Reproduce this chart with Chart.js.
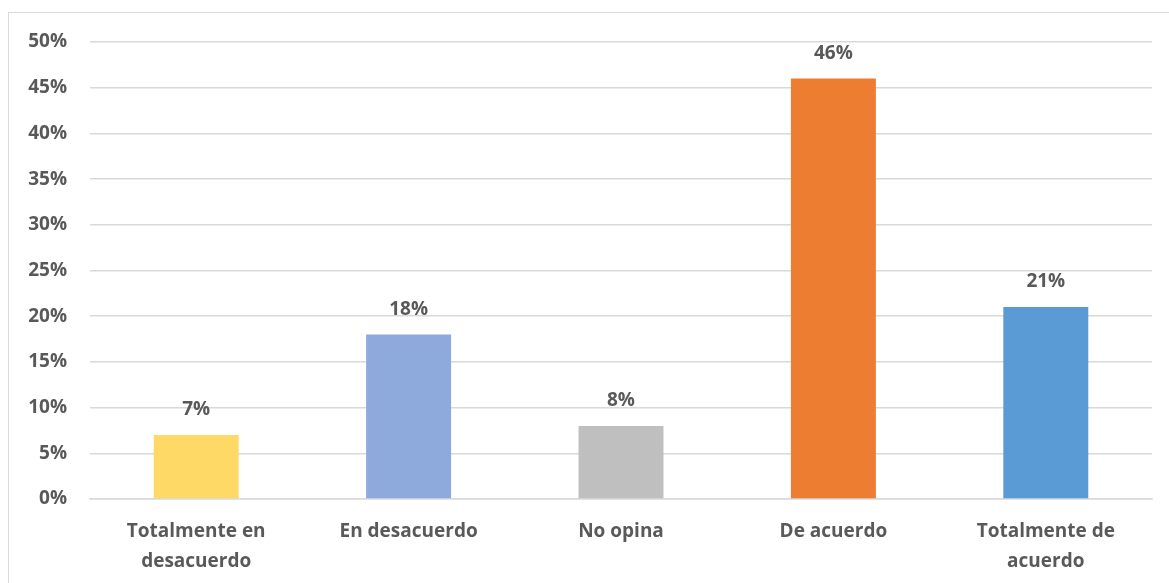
<!DOCTYPE html>
<html>
<head>
<meta charset="utf-8">
<script src="https://cdn.jsdelivr.net/npm/chart.js@4"></script>
<style>
  html, body { margin: 0; padding: 0; background: #fff; overflow: hidden; }
  #frame { position: absolute; left: 8px; top: 12px; width: 1200px; height: 620px; border: 1.5px solid #d9d9d9; }
  #wrap { position: absolute; left: 0; top: 0; width: 1169px; height: 583px; }
</style>
</head>
<body>
<div id="frame"></div>
<div id="wrap"><canvas id="chart" width="1169" height="583"></canvas></div>
<script>
const categories = [
  ['Totalmente en', 'desacuerdo'],
  'En desacuerdo',
  'No opina',
  'De acuerdo',
  ['Totalmente de', 'acuerdo']
]
const values = [7, 18, 8, 46, 21]
const barColors = ['#FFD966', '#8EA9DB', '#BFBFBF', '#ED7D31', '#5B9BD5']
const yTicks = [0, 5, 10, 15, 20, 25, 30, 35, 40, 45, 50]

const textColor = '#595959'
const fontFamily = '"Open Sans", "Noto Sans", sans-serif'

// draws the value above each bar
const valueLabels = {
  id: 'valueLabels',
  afterDatasetsDraw(chart) {
    const ctx = chart.ctx
    const meta = chart.getDatasetMeta(0)
    ctx.save()
    ctx.fillStyle = textColor
    ctx.font = `bold 19px ${fontFamily}`
    ctx.textAlign = 'center'
    ctx.textBaseline = 'middle'
    meta.data.forEach((bar, i) => {
      ctx.fillText(values[i] + '%', bar.x, bar.y - 25)
    })
    ctx.restore()
  }
}

new Chart(document.getElementById('chart'), {
  type: 'bar',
  data: {
    labels: categories,
    datasets: [{
      data: values,
      backgroundColor: barColors,
      categoryPercentage: 1,
      barPercentage: 0.4
    }]
  },
  options: {
    responsive: false,
    animation: false,
    layout: { padding: { left: 10, right: 17, top: 42, bottom: 0 } },
    plugins: {
      legend: { display: false },
      tooltip: { enabled: false }
    },
    scales: {
      x: {
        grid: { display: false },
        border: { color: '#d9d9d9', width: 1.5 },
        ticks: {
          color: textColor,
          font: { family: fontFamily, size: 19, weight: 'bold', lineHeight: 1.55 },
          padding: 10,
          maxRotation: 0
        },
        afterFit: (scale) => { scale.height = 84 }
      },
      y: {
        min: 0,
        max: 50,
        border: { display: false },
        grid: { color: '#d9d9d9', lineWidth: 1.5, drawTicks: false },
        afterBuildTicks: (scale) => { scale.ticks = yTicks.map(v => ({ value: v })) },
        ticks: {
          color: textColor,
          font: { family: fontFamily, size: 19, weight: 'bold' },
          padding: 23,
          callback: (v) => v + '%'
        },
        afterFit: (scale) => { scale.width = 80 }
      }
    }
  },
  plugins: [valueLabels]
})
</script>
</body>
</html>
